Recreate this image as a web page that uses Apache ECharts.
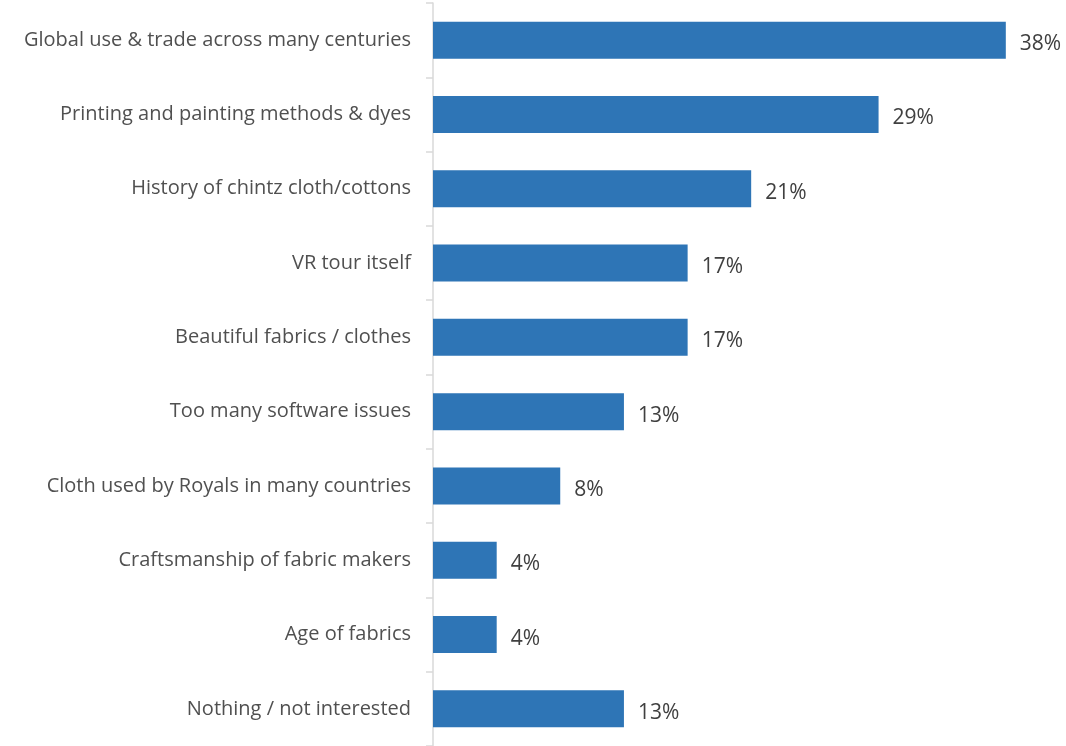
<!DOCTYPE html>
<html><head><meta charset="utf-8">
<script src="https://cdn.jsdelivr.net/npm/echarts@6/dist/echarts.min.js"></script>
<style>html,body{margin:0;padding:0;background:#fff}#c{width:1066px;height:746px}</style>
</head><body><div id="c"></div>
<script>
const categories = [
  "Global use & trade across many centuries",
  "Printing and painting methods & dyes",
  "History of chintz cloth/cottons",
  "VR tour itself",
  "Beautiful fabrics / clothes",
  "Too many software issues",
  "Cloth used by Royals in many countries",
  "Craftsmanship of fabric makers",
  "Age of fabrics",
  "Nothing / not interested"
];
const values = [37.5, 29.17, 20.83, 16.67, 16.67, 12.5, 8.33, 4.17, 4.17, 12.5];

const chart = echarts.init(document.getElementById('c'));
chart.setOption({
  animation: false,
  grid: { left: 433, top: 3, right: 22, bottom: -3, containLabel: false },
  xAxis: { type: 'value', min: 0, max: 40, show: false },
  yAxis: {
    type: 'category', data: categories, inverse: true,
    axisLine: { show: true, lineStyle: { color: '#d9d9d9', width: 1.5 } },
    axisTick: { show: true, alignWithLabel: false, inside: false, length: 7, lineStyle: { color: '#d9d9d9', width: 1.5 } },
    axisLabel: { margin: 22, color: '#505050', fontFamily: 'Open Sans', fontSize: 20, padding: [4, 0, 0, 0] }
  },
  series: [{
    type: 'bar', data: values, barWidth: 37,
    itemStyle: { color: '#2e75b6' },
    label: { show: true, position: 'right', distance: 14, offset: [0, 4], color: '#404040',
      fontFamily: 'Open Sans', fontSize: 21,
      formatter: p => Math.round(p.value) + '%' }
  }]
});
</script></body></html>
